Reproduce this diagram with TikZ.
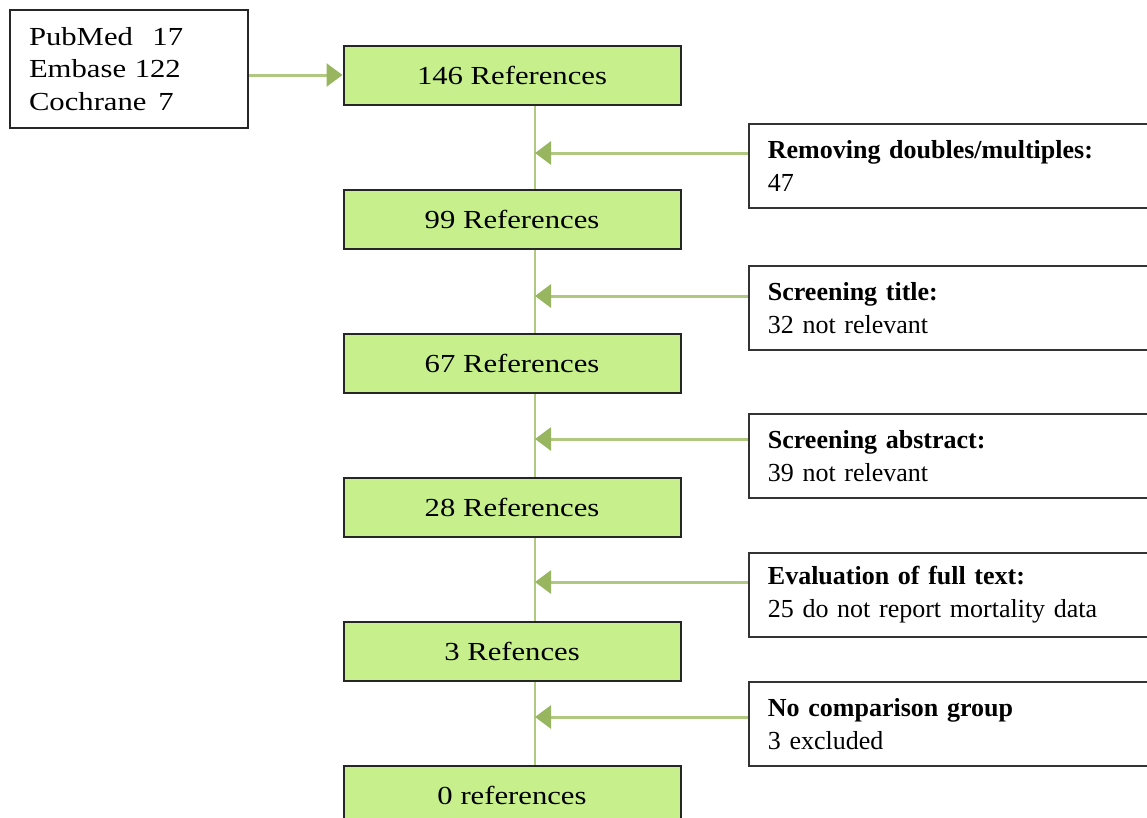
\documentclass[tikz,border=0pt]{standalone}
\usepackage{fontspec}
\setmainfont{Liberation Serif}
\newfontfamily\refsfont[FakeStretch=1.18]{Liberation Serif}
\usetikzlibrary{positioning,arrows.meta,calc}
\definecolor{boxgreen}{RGB}{199,240,141}
\definecolor{linegreen}{RGB}{176,200,128}
\definecolor{tipgreen}{RGB}{152,182,96}

\begin{document}
\begin{tikzpicture}[
    x=1pt, y=-1pt,
    node distance=83pt,
    refbox/.style={draw=black!85, line width=2pt, fill=boxgreen, minimum width=337pt, minimum height=59pt, font=\refsfont\fontsize{26}{30}\selectfont},
    srcbox/.style={draw=black!85, line width=2pt, fill=white, minimum height=118pt, text width=200pt, align=left, inner xsep=19pt, font=\refsfont\fontsize{26}{32.5}\selectfont},
    exbox/.style={draw=black!80, line width=1.8pt, fill=white, anchor=west, minimum height=84pt, text width=380pt, align=left, inner xsep=19pt, font=\fontsize{26}{33}\selectfont},
    flow/.style={draw=linegreen, line width=3pt, -{Triangle[length=16pt,width=23pt,color=tipgreen]}},
    spine/.style={draw=linegreen, line width=2.2pt},
]
\useasboundingbox (0,0) rectangle (1147,817);
\clip (0,0) rectangle (1147,817);

% sources and reference counts
\node[srcbox] (src) at (129,69) {PubMed\hspace{0.75em}17\\Embase 122\\Cochrane\hspace{0.45em}7};
\node[refbox] (r1) at (512,75) {146 References};
\node[refbox, below=of r1] (r2) {99 References};
\node[refbox, below=of r2] (r3) {67 References};
\node[refbox, below=of r3] (r4) {28 References};
\node[refbox, below=of r4] (r5) {3 Refences};
\node[refbox, below=of r5] (r6) {0 references};

% exclusions
\node[exbox] (x1) at (748,166) {\textbf{Removing doubles/multiples:}\\47};
\node[exbox] (x2) at (748,308) {\textbf{Screening title:}\\32 not relevant};
\node[exbox] (x3) at (748,456) {\textbf{Screening abstract:}\\39 not relevant};
\node[exbox] (x4) at (748,595) {\textbf{Evaluation of full text:}\\25 do not report mortality data};
\node[exbox] (x5) at (748,724) {\textbf{No comparison group}\\3 excluded};

\coordinate (spine) at (535,0);

\draw[flow] (src.east |- r1) -- (r1.west);
\foreach \i/\j in {1/2,2/3,3/4,4/5,5/6}
    \draw[spine] (r\i.south -| spine) -- (r\j.north -| spine);
\foreach \k/\s in {1/13,2/12,3/17,4/13,5/7}
    \draw[flow] ([yshift=\s pt]x\k.west) -- ([yshift=\s pt]x\k.west -| spine);
\end{tikzpicture}
\end{document}
